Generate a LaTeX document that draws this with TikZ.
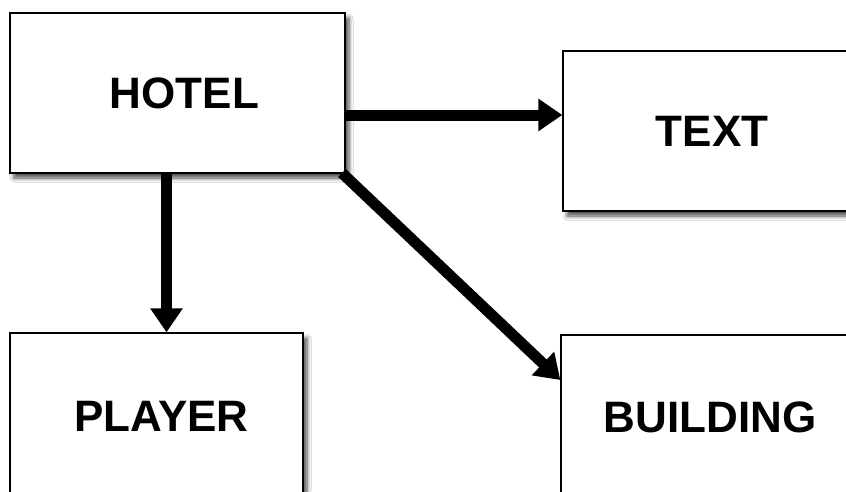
\documentclass[tikz,border=0pt]{standalone}
\usepackage{fontspec}
\setmainfont{Liberation Sans}
\usetikzlibrary{arrows.meta,shadows.blur,calc}

\tikzset{
  entity/.style={draw=black, line width=1.3pt, fill=white, rectangle,
    inner sep=0pt, font=\fontsize{44}{50}\selectfont\bfseries,
    blur shadow={shadow xshift=4pt, shadow yshift=-5pt,
      shadow blur radius=4pt, shadow blur steps=6, shadow opacity=70}},
  link/.style={draw=black, line width=11pt,
    -{Triangle[length=24pt,width=31pt]}, shorten <=-1pt}
}

\begin{document}
\begin{tikzpicture}[x=1pt,y=-1pt]
  \useasboundingbox (0,0) rectangle (846,491);
  \clip (0,0) rectangle (846,491);
  \fill[white] (0,0) rectangle (846,491);

  % entity boxes
  \node[entity, minimum width=335pt, minimum height=160pt] (hotel)    at (177.5,93)  {\hspace*{14pt}HOTEL};
  \node[entity, minimum width=298pt, minimum height=160pt] (text)     at (712,131)   {TEXT};
  \node[entity, minimum width=293pt, minimum height=166pt] (player)   at (156.5,416) {\hspace*{10pt}PLAYER};
  \node[entity, minimum width=298pt, minimum height=164pt] (building) at (710,417)   {BUILDING};

  % connectors
  \draw[link] ([yshift=-22pt]hotel.east) -- ([yshift=-22pt]hotel.east -| text.west);
  \draw[link] ([xshift=-11pt]hotel.south) -- ([xshift=-11pt]hotel.south |- player.north);
  \draw[link] ([xshift=-3pt]hotel.south east) -- ([yshift=37pt]building.west);
\end{tikzpicture}
\end{document}
